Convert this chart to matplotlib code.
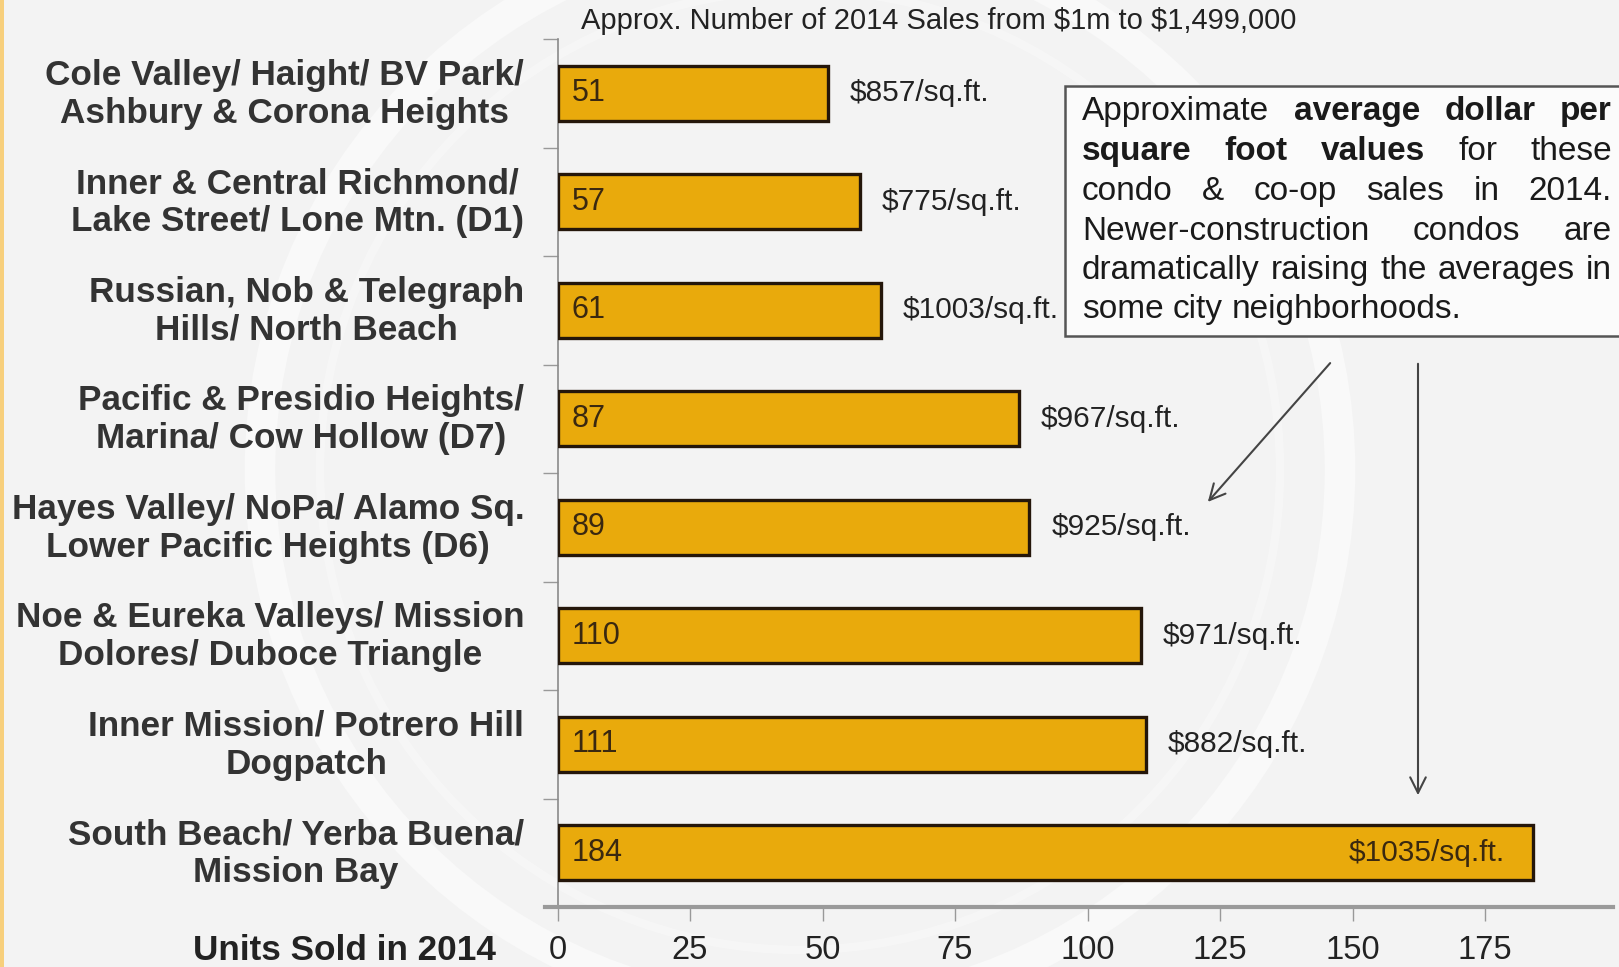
import matplotlib
matplotlib.use("Agg")
import matplotlib.pyplot as plt
from matplotlib.patches import Circle, Rectangle, FancyArrowPatch
from matplotlib.transforms import ScaledTranslation
import numpy as np

# ---------------- data ----------------
categories = [
    "Cole Valley/ Haight/ BV Park/\nAshbury & Corona Heights",
    "Inner & Central Richmond/\nLake Street/ Lone Mtn. (D1)",
    "Russian, Nob & Telegraph\nHills/ North Beach",
    "Pacific & Presidio Heights/\nMarina/ Cow Hollow (D7)",
    "Hayes Valley/ NoPa/ Alamo Sq.\nLower Pacific Heights (D6)",
    "Noe & Eureka Valleys/ Mission\nDolores/ Duboce Triangle",
    "Inner Mission/ Potrero Hill\nDogpatch",
    "South Beach/ Yerba Buena/\nMission Bay",
]
units_sold = [51, 57, 61, 87, 89, 110, 111, 184]
price_per_sqft = [857, 775, 1003, 967, 925, 971, 882, 1035]
x_ticks = [0, 25, 50, 75, 100, 125, 150, 175]

title_text = "Approx. Number of 2014 Sales from $1m to $1,499,000"
xlabel_text = "Units Sold in 2014"
note_lines = [
    [("Approximate", False), ("average", True), ("dollar", True), ("per", True)],
    [("square", True), ("foot", True), ("values", True), ("for", False), ("these", False)],
    [("condo", False), ("&", False), ("co-op", False), ("sales", False), ("in", False), ("2014.", False)],
    [("Newer-construction", False), ("condos", False), ("are", False)],
    [("dramatically", False), ("raising", False), ("the", False), ("averages", False), ("in", False)],
    [("some", False), ("city", False), ("neighborhoods.", False)],
]

# ---------------- style ----------------
plt.rcParams['font.family'] = ['Liberation Sans', 'DejaVu Sans']
W, H = 1619, 967
BAR = "#E9AA0C"
EDGE = "#24160a"
BG = "#f3f3f3"

fig = plt.figure(figsize=(W / 100, H / 100), dpi=100)
fig.patch.set_facecolor(BG)

def fx(px):
    return px / W

def fy(py):
    return 1 - py / H

# faint watermark rings
wm = fig.add_axes([0, 0, 1, 1], zorder=0)
wm.set_xlim(0, W); wm.set_ylim(H, 0); wm.axis('off')
wm.add_patch(Circle((800, 470), 540, fill=False, ec='white', lw=22, alpha=0.5))
wm.add_patch(Circle((800, 470), 480, fill=False, ec='white', lw=6, alpha=0.3))
wm.add_patch(Rectangle((0, 0), 4, H, color="#f7cf7c", lw=0))

ax = fig.add_axes([fx(557.5), 60 / H, (1613 - 557.5) / W, 868 / H], zorder=2)
ax.patch.set_alpha(0)

y = np.arange(len(categories))
ax.barh(y, units_sold, height=0.51, color=BAR, edgecolor=EDGE, linewidth=2.4, zorder=3)
ax.set_xlim(0, 199.15)
ax.set_ylim(len(categories) - 0.5, -0.5)

for yi, u, p in zip(y, units_sold, price_per_sqft):
    ax.annotate(str(u), (0, yi), xytext=(14, 0), textcoords='offset pixels',
                ha='left', va='center', fontsize=22, color="#3a2810", zorder=4)
    label = f"${p}/sq.ft."
    if u == max(units_sold):
        ax.annotate(label, (u, yi), xytext=(-28, 0), textcoords='offset pixels',
                    ha='right', va='center', fontsize=21.5, color="#3a2810", zorder=4,
                    parse_math=False)
    else:
        ax.annotate(label, (u, yi), xytext=(22, 0), textcoords='offset pixels',
                    ha='left', va='center', fontsize=21.5, color="#222222", zorder=4,
                    parse_math=False)

# axes styling
for s in ('top', 'right'):
    ax.spines[s].set_visible(False)
ax.spines['left'].set_color('#8a8a8a')
ax.spines['left'].set_linewidth(1.2)
ax.spines['bottom'].set_color('#9a9a9a')
ax.spines['bottom'].set_linewidth(3)
ax.spines['bottom'].set_bounds(-2.3, 199.15)

ax.set_xticks(x_ticks)
ax.set_xticklabels([str(t) for t in x_ticks], fontsize=23.5, color="#222222")
ax.tick_params(axis='x', direction='out', length=10, width=1, color='#999999', pad=10)

ax.set_yticks(y)
ax.set_yticklabels(categories, fontsize=25.3, fontweight='bold', color="#333333",
                   multialignment='center', linespacing=1.2)
ax.tick_params(axis='y', which='major', length=0, pad=24)
shift_up = ScaledTranslation(0, 5 / 100, fig.dpi_scale_trans)
for lab in ax.get_yticklabels():
    lab.set_transform(lab.get_transform() + shift_up)
ax.set_yticks(np.arange(-0.5, len(categories) - 0.5, 1), minor=True)
ax.tick_params(axis='y', which='minor', direction='out', length=11, width=1, color='#999999')

# title and x label
fig.text(fx(581), fy(21), title_text, ha='left', va='center', fontsize=21,
         color="#222222", parse_math=False)
fig.text(fx(496), fy(951), xlabel_text, ha='right', va='center', fontsize=25.3,
         fontweight='bold', color="#222222")

# annotation box
wm2 = fig.add_axes([0, 0, 1, 1], zorder=5)
wm2.set_xlim(0, W); wm2.set_ylim(H, 0); wm2.axis('off')
wm2.add_patch(Rectangle((1065, 86), 600, 250, facecolor='#fbfbfb', edgecolor='#555555', lw=1.8))

fig.canvas.draw()
renderer = fig.canvas.get_renderer()
left, right = 1082, 1612
line_ys = [108, 148, 188, 228, 267, 306]
fs = 24
for i, (words, ly) in enumerate(zip(note_lines, line_ys)):
    texts = []
    for w, bold in words:
        t = fig.text(0, fy(ly), w, fontsize=fs, fontweight='bold' if bold else 'normal',
                     ha='left', va='center_baseline', color="#1a1a1a", zorder=10)
        texts.append(t)
    widths = [t.get_window_extent(renderer).width for t in texts]
    if i == len(note_lines) - 1:
        gap = 0.278 * fs * 100 / 72
    else:
        gap = (right - left - sum(widths)) / (len(words) - 1)
    x = left
    for t, wdt in zip(texts, widths):
        t.set_x(fx(x))
        x += wdt + gap

# arrows
arrow_kw = dict(arrowstyle='->', color='#444444', lw=1.5, mutation_scale=28)
fig.add_artist(FancyArrowPatch((fx(1332), fy(361)), (fx(1206), fy(504)),
                               transform=fig.transFigure, zorder=11, **arrow_kw))
fig.add_artist(FancyArrowPatch((fx(1418), fy(361)), (fx(1418), fy(798)),
                               transform=fig.transFigure, zorder=11, **arrow_kw))

fig.savefig("out.png", dpi=100, facecolor=fig.get_facecolor())
